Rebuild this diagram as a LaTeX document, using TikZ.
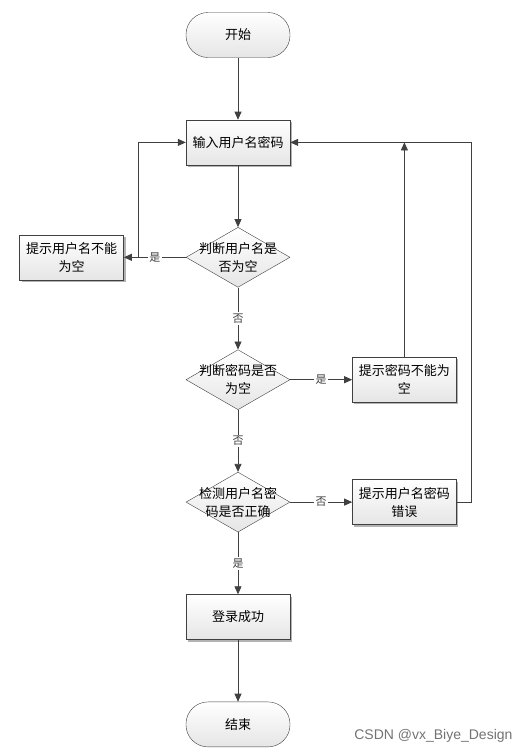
\documentclass[tikz,border=0pt]{standalone}
\usepackage{fontspec}
\setmainfont{Noto Sans CJK SC}
\newfontfamily\wmfont{Liberation Sans}
\usepackage{tikz}
\usetikzlibrary{shapes.geometric, arrows.meta, positioning, shadows}
\usepackage{xcolor}
\definecolor{linegray}{HTML}{404040}
\tikzset{
  block/.style={
    rectangle,
    minimum width=104pt, minimum height=45pt,
    text centered, text width=96pt,
    draw=linegray, top color=white, bottom color=black!10,
    drop shadow={shadow xshift=2pt, shadow yshift=-2pt, opacity=0.6},
    font=\fontsize{13}{18}\selectfont
  },
  terminal/.style={
    rectangle, rounded corners=22pt,
    minimum width=104pt, minimum height=45pt,
    text centered,
    draw=linegray, top color=white, bottom color=black!10,
    font=\fontsize{13}{18}\selectfont
  },
  decision/.style={
    diamond, aspect=1.7, inner sep=0pt,
    minimum width=104pt, minimum height=60pt,
    draw=linegray, top color=white, bottom color=black!10
  },
  dtext/.style={
    text width=90pt, align=center,
    font=\fontsize{13}{18}\selectfont
  },
  arrow/.style={-{Triangle[length=8pt, width=7pt]}, line width=0.8pt, linegray},
  yesno/.style={fill=white, inner sep=1.5pt, font=\fontsize{11}{13}\selectfont}
}
\begin{document}
\begin{tikzpicture}[node distance=62pt and 62pt]

  \useasboundingbox (0,0) rectangle (529pt,-755pt);

  \node[terminal] (start) at (238pt,-35pt) {开始};

  \node[block, below=of start] (input) {输入用户名密码};

  \node[decision, below=of input,
    label={[dtext]center:判断用户名是\\否为空}] (chkuser) {};

  \node[block, left=of chkuser] (usernull) {提示用户名不能\\为空};

  \node[decision, below=of chkuser,
    label={[dtext]center:判断密码是否\\为空}] (chkpwd) {};

  \node[block, right=of chkpwd] (pwdnull) {提示密码不能为\\空};

  \node[decision, below=of chkpwd,
    label={[dtext]center:检测用户名密\\码是否正确}] (chklogin) {};

  \node[block, right=of chklogin] (loginerr) {提示用户名密码\\错误};

  \node[block, below=of chklogin] (success) {登录成功};

  \node[terminal, below=of success] (finish) {结束};

  \coordinate (loopl) at ([xshift=15pt]usernull.east);

  \draw[arrow] (start) -- (input);
  \draw[arrow] (input) -- (chkuser);
  \draw[arrow] (chkuser) -- node[yesno]{是} (usernull);
  \draw[arrow] (loopl) |- (input.west);
  \draw[arrow] (chkuser) -- node[yesno]{否} (chkpwd);
  \draw[arrow] (chkpwd) -- node[yesno]{是} (pwdnull);
  \draw[arrow] (pwdnull) -- (pwdnull.north |- input.east);
  \draw[arrow] (chkpwd) -- node[yesno]{否} (chklogin);
  \draw[arrow] (chklogin) -- node[yesno]{否} (loginerr);
  \draw[arrow] (loginerr.east) -- ++(15pt,0) |- (input.east);
  \draw[arrow] (chklogin) -- node[yesno]{是} (success);
  \draw[arrow] (success) -- (finish);

  \node[anchor=east, text=black!55, font=\wmfont\fontsize{14}{16}\selectfont]
    (mark) at (516pt,-736pt) {CSDN @vx\_Biye\_Design};

\end{tikzpicture}
\end{document}
